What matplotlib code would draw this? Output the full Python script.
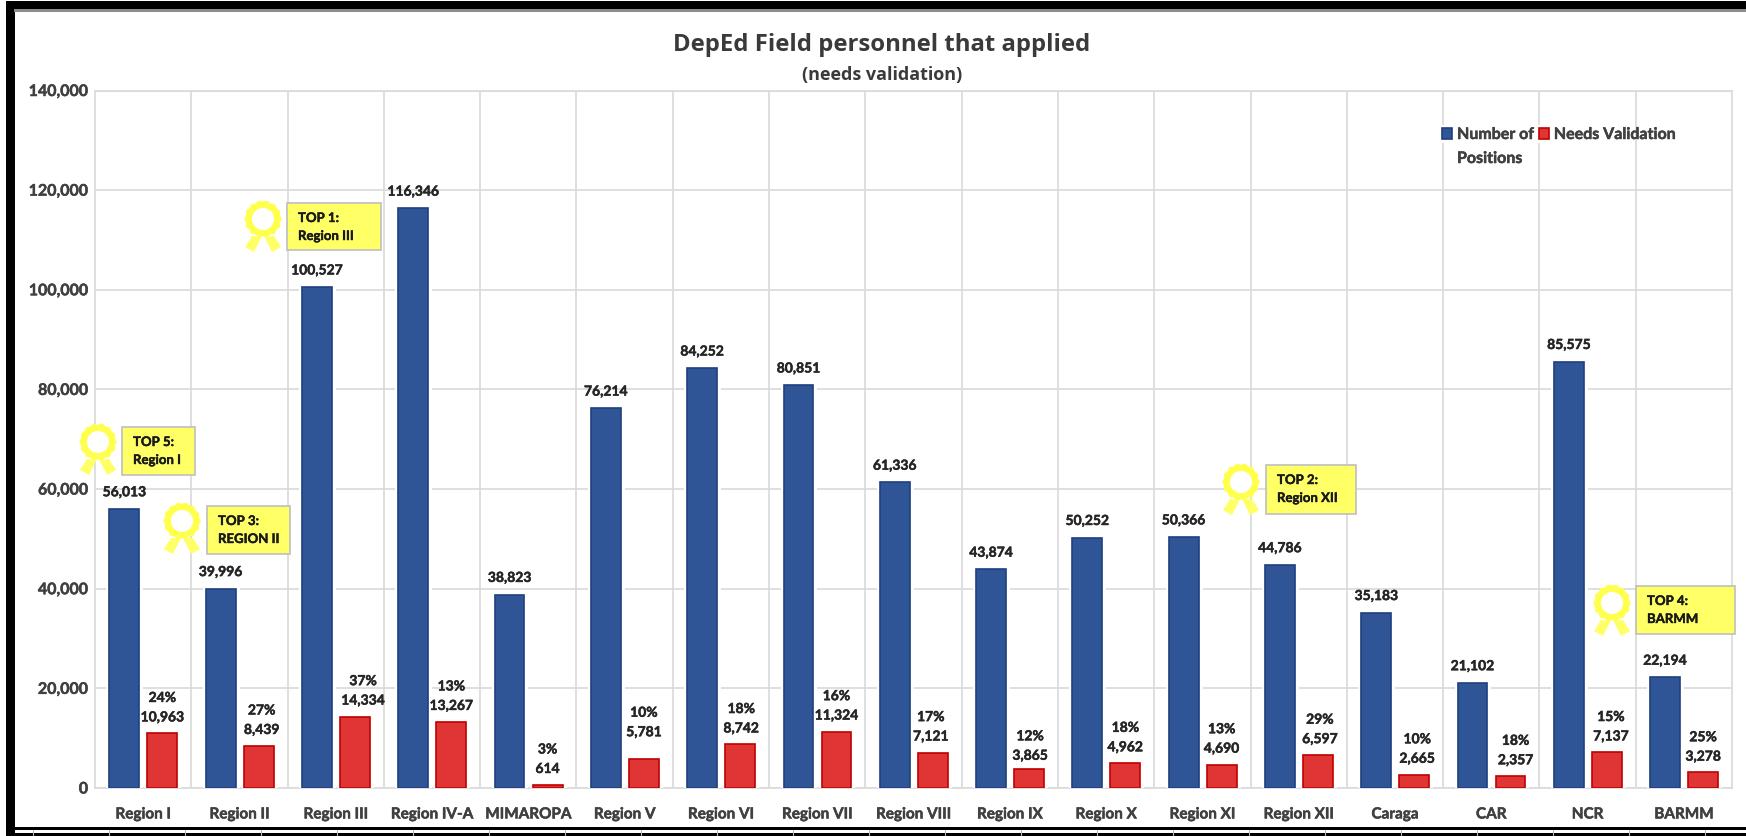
import numpy as np
import matplotlib
matplotlib.use('Agg')
import matplotlib.pyplot as plt
import matplotlib.patheffects as pe
from matplotlib.patches import Rectangle, Polygon
from matplotlib.ticker import FuncFormatter, MultipleLocator

regions = ['Region I', 'Region II', 'Region III', 'Region IV-A', 'MIMAROPA', 'Region V', 'Region VI',
           'Region VII', 'Region VIII', 'Region IX', 'Region X', 'Region XI', 'Region XII', 'Caraga',
           'CAR', 'NCR', 'BARMM']
positions = [56013, 39996, 100527, 116346, 38823, 76214, 84252, 80851, 61336, 43874, 50252, 50366,
             44786, 35183, 21102, 85575, 22194]
validation = [10963, 8439, 14334, 13267, 614, 5781, 8742, 11324, 7121, 3865, 4962, 4690, 6597, 2665,
              2357, 7137, 3278]
percents = ['24%', '27%', '37%', '13%', '3%', '10%', '18%', '16%', '17%', '12%', '18%', '13%', '29%',
            '10%', '18%', '15%', '25%']
# label nudges in px, the labels don't sit exactly over the red bars
red_dx = [0, 3, 8, 0, 0, 0, 1, 0, -2, 1, 0, 0, 2, 3, 5, 4, 0]
red_dy = [0, 0, 0, 0, 0, 11, 0, 0, 0, -3, 0, 0, 0, 0, 0, 0, -1]

# callouts: text line 1, line 2, box left/top/right/bottom in image px, ribbon centre
callouts = [
    ('TOP 1:', 'Region III', (287, 204, 381, 251), (263, 220)),
    ('TOP 5:', 'Region I', (122, 428, 195, 476), (98, 443)),
    ('TOP 3:', 'REGION II', (207, 507, 290, 555), (182, 522)),
    ('TOP 2:', 'Region XII', (1266, 466, 1356, 515), (1241, 483)),
    ('TOP 4:', 'BARMM', (1636, 587, 1735, 635), (1612, 604)),
]

W, H = 1746, 837
BLUE, BLUE_E = '#2F5597', '#1F3F7F'
RED, RED_E = '#E03535', '#C00000'
GRID = '#D9D9D9'
TXT = '#404040'
LBL = '#262626'

plt.rcParams['font.family'] = ['Lato', 'DejaVu Sans']
plt.rcParams['font.weight'] = 'bold'


def thick(color, w=0.35):
    # the screenshot text is blurry and heavier than Lato bold
    return [pe.withStroke(linewidth=w, foreground=color)]


fig = plt.figure(figsize=(W / 100, H / 100), dpi=100)
ax = fig.add_axes([95 / W, 1 - 789 / H, (1732 - 95) / W, (789 - 91.5) / H])

x = np.arange(len(regions))
halo = [pe.withStroke(linewidth=5, foreground='white')]
bar1 = ax.bar(x - 0.195, positions, 0.31, color=BLUE, edgecolor=BLUE_E, linewidth=1.2,
              zorder=3, path_effects=halo)
bar2 = ax.bar(x + 0.2, validation, 0.31, color=RED, edgecolor=RED_E, linewidth=1.2,
              zorder=3, path_effects=halo)

ax.set_xlim(-0.5, len(regions) - 0.5)
ax.set_ylim(0, 140000)
ax.yaxis.set_major_locator(MultipleLocator(20000))
ax.yaxis.set_major_formatter(FuncFormatter(lambda v, p: f'{int(v):,}'))
ax.set_xticks(x)
ax.set_xticklabels(regions)
ax.set_xticks(x[:-1] + 0.5, minor=True)
ax.grid(True, which='major', axis='y', color=GRID, linewidth=1.2, zorder=1)
ax.grid(True, which='minor', axis='x', color=GRID, linewidth=1.2, zorder=1)
ax.tick_params(axis='both', which='both', length=0, labelcolor=TXT)
ax.tick_params(axis='x', pad=14, labelsize=11)
ax.tick_params(axis='y', pad=5, labelsize=11.5)
for t in ax.get_xticklabels() + ax.get_yticklabels():
    t.set_path_effects(thick(TXT))
for s in ax.spines.values():
    s.set_color(GRID)
    s.set_linewidth(1.2)

for i in x:
    ax.annotate(f'{positions[i]:,}', (x[i] - 0.195, positions[i]), xytext=(0, 12), textcoords='offset points',
                ha='center', va='center', fontsize=10, color=LBL, zorder=5, path_effects=thick(LBL))
    ax.annotate(f'{validation[i]:,}', (x[i] + 0.2, validation[i]), xytext=(red_dx[i] * 0.72, 11.5 + red_dy[i] * 0.72),
                textcoords='offset points', ha='center', va='center', fontsize=10, color=LBL, zorder=5,
                path_effects=thick(LBL))
    ax.annotate(percents[i], (x[i] + 0.2, validation[i]), xytext=(red_dx[i] * 0.72, 25.5 + red_dy[i] * 0.72),
                textcoords='offset points', ha='center', va='center', fontsize=10, color=LBL, zorder=5,
                path_effects=thick(LBL))

leg = ax.legend([bar1, bar2], ['Number of', 'Needs Validation'], ncol=2, frameon=False, fontsize=11.5,
                loc='upper left', bbox_to_anchor=(1442 / W, 1 - 129 / H), bbox_transform=fig.transFigure,
                borderpad=0, borderaxespad=0, handlelength=0.64, handleheight=0.64, handletextpad=0.3,
                columnspacing=0.3, labelcolor=TXT)
leg.set_zorder(6)
for t in leg.get_texts():
    t.set_path_effects(thick(TXT))
fig.text(1457 / W, 1 - 160 / H, 'Positions', ha='left', va='center', fontsize=11.5, color=TXT,
         path_effects=thick(TXT))

fig.text(882 / W, 1 - 45 / H, 'DepEd Field personnel that applied', ha='center', va='center',
         fontsize=17.2, color='#3A3A3A', family='Open Sans', fontweight='bold')
fig.text(882 / W, 1 - 75 / H, '(needs validation)', ha='center', va='center', fontsize=13, color='#3A3A3A',
         family='Open Sans', fontweight='bold')

# overlay in image px for the frame and the ribbon callouts
ov = fig.add_axes([0, 0, 1, 1], zorder=10)
ov.set_xlim(0, W)
ov.set_ylim(H, 0)
ov.axis('off')

theta = np.linspace(0, 2 * np.pi, 145)
for line1, line2, (x0, y0, x1, y1), (cx, cy) in callouts:
    ov.add_patch(Rectangle((x0, y0), x1 - x0, y1 - y0, facecolor='#FFFF66', edgecolor='#BFBFBF', linewidth=1.2))
    ov.text(x0 + 11, y0 + 15, line1, ha='left', va='center', fontsize=9.5, color='#1A1A1A',
            path_effects=thick('#1A1A1A', 0.3))
    ov.text(x0 + 11, y0 + 33, line2, ha='left', va='center', fontsize=9.5, color='#1A1A1A',
            path_effects=thick('#1A1A1A', 0.3))
    for sx in (-1, 1):
        ov.add_patch(Polygon([(cx + sx * 1.5, cy + 18), (cx + sx * 11, cy + 17), (cx + sx * 18, cy + 28), (cx + sx * 9, cy + 33)],
                             facecolor='#FFFF66', edgecolor='none'))
    r = 18 + 0.7 * np.cos(14 * theta)
    ov.fill(cx + r * np.cos(theta), cy + r * np.sin(theta), color='#FFFF4D', lw=0)
    ov.fill(cx + 11 * np.cos(theta), cy + 11 * np.sin(theta), color='white', lw=0)

# black screenshot frame
ov.add_patch(Rectangle((6, 2), W - 6, 8, facecolor='black', edgecolor='none'))
ov.add_patch(Rectangle((6, 2), 9, H - 2, facecolor='black', edgecolor='none'))
ov.add_patch(Rectangle((14, 10), W - 14, 3, facecolor='#8C8C8C', edgecolor='none'))
ov.add_patch(Rectangle((14, 827.5), W - 14, 3, facecolor='black', edgecolor='none'))
ov.add_patch(Rectangle((14, 834), W - 14, 3, facecolor='black', edgecolor='none'))
for tx in range(33, W, 76):
    ov.plot([tx, tx], [831, 837], color='#BBBBBB', linewidth=0.8)

fig.savefig('out.png', dpi=100)
